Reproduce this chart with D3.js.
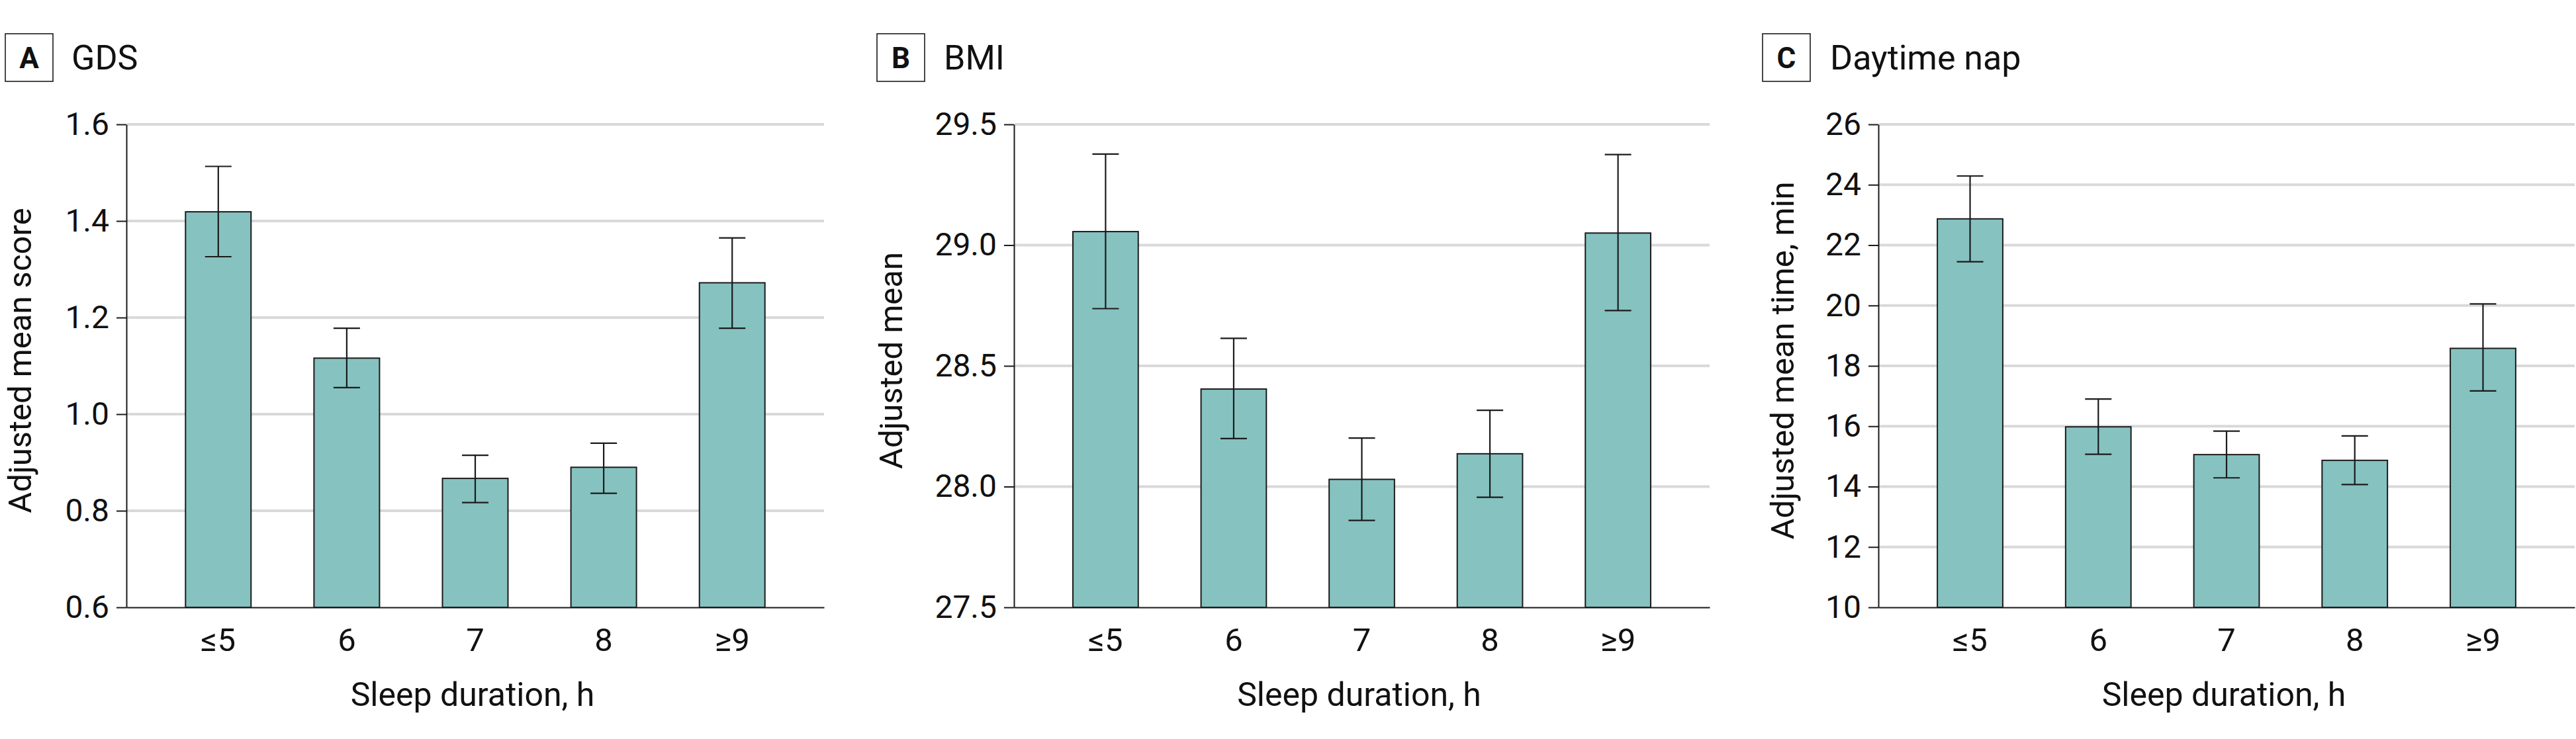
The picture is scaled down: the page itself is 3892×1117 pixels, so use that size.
<!DOCTYPE html>
<html>
<head>
<meta charset="utf-8">
<script src="https://cdn.jsdelivr.net/npm/d3@7"></script>
<style>
  html, body { margin: 0; padding: 0; background: #fff; }
  svg { display: block; }
  text { font-family: Roboto, "Liberation Sans", sans-serif; fill: #111; }
</style>
</head>
<body>
<svg id="chart" width="3892" height="1117"></svg>
<script>
// ---------- data ----------
const categories = ["≤5", "6", "7", "8", "≥9"];

const gdsMean = [1.419, 1.116, 0.867, 0.890, 1.272];
const gdsLo   = [1.326, 1.055, 0.817, 0.836, 1.178];
const gdsHi   = [1.513, 1.178, 0.915, 0.940, 1.365];
const gdsTicks = [0.6, 0.8, 1.0, 1.2, 1.4, 1.6];

const bmiMean = [29.056, 28.404, 28.030, 28.136, 29.050];
const bmiLo   = [28.737, 28.199, 27.860, 27.956, 28.729];
const bmiHi   = [29.377, 28.614, 28.201, 28.316, 29.375];
const bmiTicks = [27.5, 28.0, 28.5, 29.0, 29.5];

const napMean = [22.87, 15.98, 15.06, 14.87, 18.58];
const napLo   = [21.45, 15.07, 14.29, 14.07, 17.17];
const napHi   = [24.29, 16.90, 15.84, 15.68, 20.05];
const napTicks = [10, 12, 14, 16, 18, 20, 22, 24, 26];

const panelLetters = ["A", "B", "C"];
const panelTitles = ["GDS", "BMI", "Daytime nap"];
const yTitles = ["Adjusted mean score", "Adjusted mean", "Adjusted mean time, min"];
const xTitle = "Sleep duration, h";

// ---------- layout ----------
const svg = d3.select("#chart");
const plotTop = 188, plotBottom = 918;
const panels = [
  { x0: 191,  x1: 1245, boxX: 8,    titleX: 108,  yTitleX: 47,   fmt: ".1f", mean: gdsMean, lo: gdsLo, hi: gdsHi, ticks: gdsTicks },
  { x0: 1532, x1: 2583, boxX: 1325, titleX: 1426, yTitleX: 1363, fmt: ".1f", mean: bmiMean, lo: bmiLo, hi: bmiHi, ticks: bmiTicks },
  { x0: 2838, x1: 3890, boxX: 2663, titleX: 2765, yTitleX: 2710, fmt: "d",   mean: napMean, lo: napLo, hi: napHi, ticks: napTicks }
];

const barFill = "#86c2c0";
const ink = "#1b1b1b";
const fontFam = 'Roboto, "Liberation Sans", sans-serif';

panels.forEach((p, i) => {
  const g = svg.append("g");
  const y = d3.scaleLinear()
    .domain(d3.extent(p.ticks))
    .range([plotBottom, plotTop]);
  const x = d3.scaleBand()
    .domain(categories)
    .range([p.x0, p.x1])
    .paddingInner(0.49)
    .paddingOuter(0.46);

  // gridlines
  g.append("g").selectAll("line")
    .data(p.ticks.slice(1))
    .join("line")
    .attr("x1", p.x0 + 1).attr("x2", p.x1)
    .attr("y1", d => y(d)).attr("y2", d => y(d))
    .attr("stroke", "#d9d9d9").attr("stroke-width", 4);

  // bars
  g.append("g").selectAll("rect")
    .data(categories)
    .join("rect")
    .attr("x", d => x(d))
    .attr("width", x.bandwidth())
    .attr("y", (d, k) => y(p.mean[k]))
    .attr("height", (d, k) => y(p.ticks[0]) - y(p.mean[k]))
    .attr("fill", barFill)
    .attr("stroke", ink).attr("stroke-width", 2);

  // error bars
  const eb = g.append("g").attr("stroke", ink).attr("stroke-width", 2.2).attr("fill", "none");
  categories.forEach((c, k) => {
    const cx = x(c) + x.bandwidth() / 2;
    eb.append("line").attr("x1", cx).attr("x2", cx).attr("y1", y(p.lo[k])).attr("y2", y(p.hi[k]));
    eb.append("line").attr("x1", cx - 20).attr("x2", cx + 20).attr("y1", y(p.lo[k])).attr("y2", y(p.lo[k]));
    eb.append("line").attr("x1", cx - 20).attr("x2", cx + 20).attr("y1", y(p.hi[k])).attr("y2", y(p.hi[k]));
  });

  // y axis
  const ya = g.append("g")
    .attr("transform", `translate(${p.x0},0)`)
    .call(d3.axisLeft(y).tickValues(p.ticks).tickFormat(d3.format(p.fmt)).tickSize(15).tickSizeOuter(0).tickPadding(11));
  ya.selectAll("text").attr("font-size", 48).attr("fill", "#111").style("font-family", fontFam);
  ya.selectAll("line").attr("stroke", ink).attr("stroke-width", 2);
  ya.select(".domain").attr("stroke", ink).attr("stroke-width", 2);

  // x axis
  const xa = g.append("g")
    .attr("transform", `translate(0,${plotBottom})`)
    .call(d3.axisBottom(x).tickSize(0).tickPadding(31));
  xa.selectAll("text").attr("font-size", 49).attr("fill", "#111").style("font-family", fontFam);
  xa.select(".domain").attr("stroke", ink).attr("stroke-width", 2);

  // axis titles
  g.append("text")
    .attr("x", (p.x0 + p.x1) / 2 - 4).attr("y", 1067)
    .attr("text-anchor", "middle").attr("font-size", 50)
    .text(xTitle);
  g.append("text")
    .attr("transform", `translate(${p.yTitleX},${(plotTop + plotBottom) / 2 - 8}) rotate(-90)`)
    .attr("text-anchor", "middle").attr("font-size", 49)
    .text(yTitles[i]);

  // panel label box + title
  g.append("rect")
    .attr("x", p.boxX).attr("y", 51).attr("width", 72).attr("height", 72)
    .attr("fill", "none").attr("stroke", ink).attr("stroke-width", 1.6);
  g.append("text")
    .attr("x", p.boxX + 36).attr("y", 103)
    .attr("text-anchor", "middle").attr("font-size", 44).attr("font-weight", "bold")
    .text(panelLetters[i]);
  g.append("text")
    .attr("x", p.titleX).attr("y", 105)
    .attr("font-size", 52)
    .text(panelTitles[i]);
});
</script>
</body>
</html>
